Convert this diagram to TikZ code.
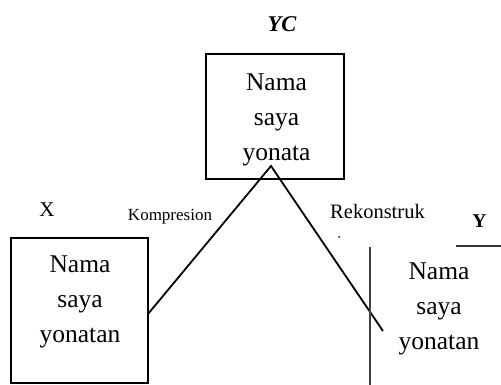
\documentclass[tikz,border=0pt]{standalone}
\usepackage{fontspec}
\setmainfont{Liberation Serif}
\begin{document}
\begin{tikzpicture}[x=1pt,y=-1pt,
  boxline/.style={draw, line width=2.2pt, inner sep=0pt},
  big/.style={font=\fontsize{25.5}{35}\selectfont, align=center, inner sep=0pt},
  conn/.style={line width=1.8pt},
  lab/.style={inner sep=0pt, anchor=base}]
\useasboundingbox (0,0) rectangle (501,385);
% boxes
\node[boxline, minimum width=138pt, minimum height=125pt] (ycbox) at (275,116.5) {};
\node[boxline, minimum width=137pt, minimum height=145pt] (xbox) at (79.5,310.5) {};
% box texts
\node[big] (yct) at (276.5,120) {Nama\\saya\\yonata};
\node[big] (xt) at (80,301.5) {Nama\\saya\\yonatan};
\node[big] (yt) at (439,308.5) {Nama\\saya\\yonatan};
% labels
\node[lab, font=\fontsize{22.5}{24}\selectfont\bfseries\itshape] (yclab) at (282,32) {YC};
\node[lab, font=\fontsize{21}{24}\selectfont] (xlab) at (47,217) {X};
\node[lab, font=\fontsize{17}{20}\selectfont] (komp) at (170,221) {Kompresion};
\node[lab, font=\fontsize{20.5}{24}\selectfont] (rek) at (377.5,218.3) {Rekonstruk};
\node[lab, font=\fontsize{19.5}{24}\selectfont\bfseries] (ylab) at (479.5,227) {Y};
\fill (339,237) circle (1pt);
% connectors
\coordinate (apex) at (271,166);
\coordinate (xin) at (148,314);
\coordinate (yin) at (383,331);
\draw[conn] (xin) -- (apex) -- (yin);
% rules
\coordinate (vtop) at (370,247);
\coordinate (vbot) at (370,385);
\draw[line width=1.3pt, black!75] (vtop) -- (vbot);
\coordinate (ul1) at (456,246);
\coordinate (ul2) at (501,246);
\draw[line width=1.5pt, black!80] (ul1) -- (ul2);
\end{tikzpicture}
\end{document}
